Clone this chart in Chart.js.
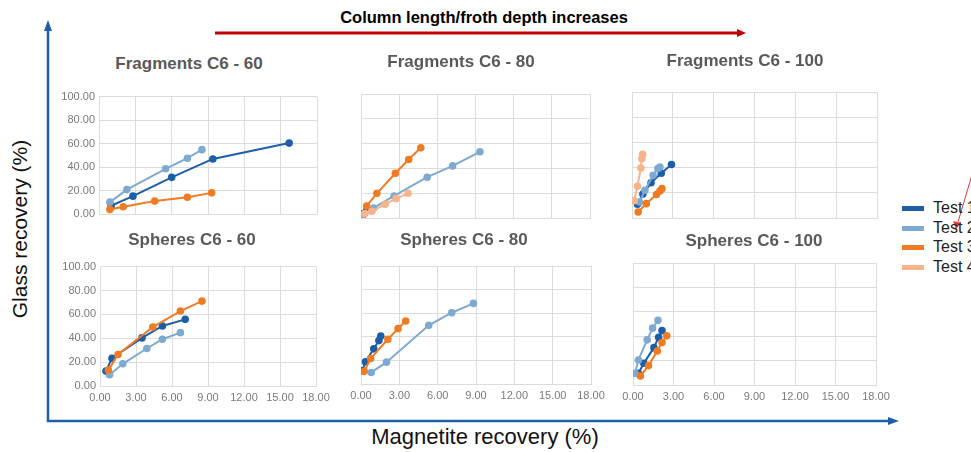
<!DOCTYPE html>
<html>
<head>
<meta charset="utf-8">
<script src="https://cdn.jsdelivr.net/npm/chart.js@4"></script>
<style>
  body { margin: 0; background: #fff; }
  #page { position: relative; width: 971px; height: 452px; overflow: hidden; background: #fff; font-family: "Liberation Sans", Arial, sans-serif; }
  canvas { position: absolute; }
  .ptitle { position: absolute; transform: translate(-50%, -50%); font-weight: bold; font-size: 17px; color: #595959; white-space: nowrap; }
  .big { position: absolute; font-size: 21px; color: #111; white-space: nowrap; }
  .legend { position: absolute; left: 902px; top: 198px; width: 120px; font-size: 16px; color: #222; }
  .legend div { height: 19.5px; line-height: 19.5px; white-space: nowrap; }
  .legend span { display: inline-block; width: 22px; height: 5px; vertical-align: middle; margin-right: 9px; }
</style>
</head>
<body>
<div id="page">
  <svg width="971" height="452" style="position:absolute;left:0;top:0">
    <line x1="215" y1="33" x2="738" y2="33" stroke="#c00000" stroke-width="3"/>
    <polygon points="746,33 737,29 737,37" fill="#c00000"/>
    <line x1="48" y1="422" x2="48" y2="30" stroke="#1f5fa8" stroke-width="2.5"/>
    <polygon points="48,20 44,31 52,31" fill="#1f5fa8"/>
    <line x1="47" y1="421" x2="890" y2="421" stroke="#1f5fa8" stroke-width="2.5"/>
    <polygon points="899,421 888,417 888,425" fill="#1f5fa8"/>
    <line x1="974" y1="168" x2="958" y2="222" stroke="#e03a3a" stroke-width="1"/>
    <polygon points="956,229 953,221 961,223" fill="#e03a3a"/>
  </svg>
  <div class="big" style="left:484px;top:18px;transform:translate(-50%,-50%) scaleX(0.97);font-weight:bold;font-size:17px;color:#000">Column length/froth depth increases</div>
  <div class="big" style="left:20px;top:229px;transform:translate(-50%,-50%) rotate(-90deg)">Glass recovery (%)</div>
  <div class="big" style="left:485px;top:437px;transform:translate(-50%,-50%);font-size:22px">Magnetite recovery (%)</div>
  <div class="legend" id="legend"></div>
</div>
<script>
const testNames = ["Test 1", "Test 2", "Test 3", "Test 4"];
const testColors = ["#1c5ea8", "#7eaad2", "#f07b22", "#f7b48c"];
const panelTitles = ["Fragments C6 - 60", "Fragments C6 - 80", "Fragments C6 - 100",
                     "Spheres C6 - 60", "Spheres C6 - 80", "Spheres C6 - 100"];
const xTicks = [0, 3, 6, 9, 12, 15, 18];
const yTicks = [0, 20, 40, 60, 80, 100];

// [magnetite recovery %, glass recovery %]
const frag60_t1 = [[1.0, 7.0], [2.8, 15.2], [6.0, 31.2], [9.4, 46.9], [15.7, 60.4]];
const frag60_t2 = [[0.9, 10.1], [2.3, 20.8], [5.5, 38.5], [7.3, 47.5], [8.5, 54.8]];
const frag60_t3 = [[0.9, 3.9], [2.0, 6.2], [4.6, 11.0], [7.3, 14.3], [9.3, 18.0]];

const frag80_t1 = [[0.1, 1.5], [0.2, 3.5], [0.45, 6.0]];
const frag80_t2 = [[0.1, 2.2], [1.0, 8.1], [2.6, 17.8], [5.2, 32.9], [7.2, 42.0], [9.35, 53.4]];
const frag80_t3 = [[0.45, 9.7], [1.25, 19.9], [2.7, 36.1], [3.75, 47.2], [4.7, 56.6]];
const frag80_t4 = [[0.3, 3.5], [0.85, 5.4], [1.9, 11.1], [2.75, 15.6], [3.7, 19.9]];

const frag100_t1 = [[0.4, 11.0], [0.8, 19.0], [1.4, 28.0], [2.15, 35.5], [2.9, 42.5]];
const frag100_t2 = [[0.55, 12.7], [0.95, 22.0], [1.55, 33.9], [1.9, 39.2], [2.05, 40.5]];
const frag100_t3 = [[0.45, 4.8], [1.05, 11.4], [1.8, 18.6], [2.05, 21.4], [2.2, 23.3]];
const frag100_t4 = [[0.15, 13.7], [0.4, 25.2], [0.65, 39.7], [0.72, 47.0], [0.78, 50.5]];

const sph60_t1 = [[0.5, 12.5], [1.0, 23.3], [3.5, 40.3], [5.2, 50.3], [7.1, 55.8]];
const sph60_t2 = [[0.8, 9.4], [1.9, 18.6], [3.9, 31.4], [5.2, 39.2], [6.7, 44.7]];
const sph60_t3 = [[0.7, 13.3], [1.5, 26.4], [4.4, 49.4], [6.7, 62.8], [8.5, 71.1]];

const sph80_t1 = [[0.1, 11.2], [0.35, 18.8], [1.0, 29.8], [1.4, 36.8], [1.55, 40.7]];
const sph80_t2 = [[0.8, 9.8], [2.0, 18.5], [5.3, 49.7], [7.1, 60.4], [8.8, 68.3]];
const sph80_t3 = [[0.25, 10.7], [0.75, 21.6], [2.1, 37.9], [2.9, 46.9], [3.5, 53.4]];

const sph100_t1 = [[0.4, 9.6], [0.8, 17.8], [1.55, 30.6], [1.9, 39.2], [2.15, 44.6]];
const sph100_t2 = [[0.15, 9.6], [0.4, 20.5], [1.05, 37.0], [1.45, 46.6], [1.85, 53.0]];
const sph100_t3 = [[0.55, 7.4], [1.15, 15.9], [1.8, 27.9], [2.15, 34.8], [2.5, 40.3]];

// series of each panel, in order Test 1..4 (null = not tested)
const panelSeries = [
  [frag60_t1, frag60_t2, frag60_t3, null],
  [frag80_t1, frag80_t2, frag80_t3, frag80_t4],
  [frag100_t1, frag100_t2, frag100_t3, frag100_t4],
  [sph60_t1, sph60_t2, sph60_t3, null],
  [sph80_t1, sph80_t2, sph80_t3, null],
  [sph100_t1, sph100_t2, sph100_t3, null]
];

// plot area of each panel on the page: left, top, right, bottom
const plotBoxes = [
  [99, 96, 317, 214], [361, 94, 590, 218], [632, 92, 877, 218],
  [100, 266, 316, 386], [361, 266, 591, 384], [633, 263, 876, 385]
];
const titlePos = [[189, 64], [461, 62], [745, 61], [192, 240], [464, 240], [754, 241]];

const page = document.getElementById("page");
const tickFont = { family: "'Liberation Sans', Arial, sans-serif", size: 11 };

plotBoxes.forEach((box, p) => {
  const [l, t, r, b] = box;
  const showY = p % 3 === 0;
  const showX = p >= 3;
  const cv = document.createElement("canvas");
  const w = (r - l) + 80, h = (b - t) + 38;
  cv.width = w; cv.height = h;
  cv.style.left = (l - 60) + "px";
  cv.style.top = (t - 10) + "px";
  page.appendChild(cv);

  const tt = document.createElement("div");
  tt.className = "ptitle";
  tt.style.left = titlePos[p][0] + "px";
  tt.style.top = titlePos[p][1] + "px";
  tt.textContent = panelTitles[p];
  page.appendChild(tt);

  const datasets = [];
  panelSeries[p].forEach((pts, i) => {
    if (!pts) return;
    datasets.push({
      label: testNames[i],
      data: pts.map(d => ({ x: d[0], y: d[1] })),
      showLine: true,
      borderColor: testColors[i],
      backgroundColor: testColors[i],
      borderWidth: 2,
      pointRadius: 2.8,
      tension: 0,
      order: 4 - i
    });
  });

  new Chart(cv, {
    type: "scatter",
    data: { datasets },
    options: {
      responsive: false,
      animation: false,
      layout: { padding: { left: showY ? 12 : 60, right: 20, top: 10, bottom: 4 } },
      plugins: { legend: { display: false }, tooltip: { enabled: false } },
      scales: {
        x: {
          type: "linear",
          min: xTicks[0], max: xTicks[xTicks.length - 1],
          ticks: { stepSize: xTicks[1] - xTicks[0], display: showX, color: "#7a7a7a", font: tickFont, padding: 5,
                   maxRotation: 0, minRotation: 0, autoSkip: false,
                   callback: v => v.toFixed(2) },
          grid: { color: "#dcdcdc", drawTicks: false },
          border: { color: "#dcdcdc" },
          afterFit: s => { s.height = 24; }
        },
        y: {
          min: yTicks[0], max: yTicks[yTicks.length - 1],
          ticks: { stepSize: yTicks[1] - yTicks[0], display: showY, color: "#7a7a7a", font: tickFont, padding: 4,
                   callback: v => v.toFixed(2) },
          grid: { color: "#dcdcdc", drawTicks: false },
          border: { color: "#dcdcdc" },
          afterFit: s => { s.width = showY ? 48 : 0; }
        }
      }
    }
  });
});

const legend = document.getElementById("legend");
testNames.forEach((n, i) => {
  const row = document.createElement("div");
  row.innerHTML = `<span style="background:${testColors[i]}"></span>${n}`;
  legend.appendChild(row);
});
</script>
</body>
</html>
